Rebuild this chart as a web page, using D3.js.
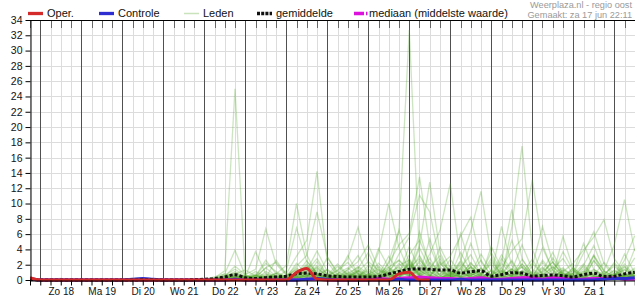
<!DOCTYPE html>
<html>
<head>
<meta charset="utf-8">
<script src="https://cdn.jsdelivr.net/npm/d3@7"></script>
<style>
body { margin: 0; background: #fff; }
svg { display: block; font-family: "Liberation Sans", Arial, sans-serif; }
</style>
</head>
<body>
<div id="pluim"></div>
<script>
// tijdas: 6-uurlijkse stappen vanaf za 17 jun 18:00
var startTijd = "2017-06-17T18:00:00Z";
var eindTijd = "2017-07-02T12:00:00Z";
var stapUren = 6;
var yTicks = [0, 2, 4, 6, 8, 10, 12, 14, 16, 18, 20, 22, 24, 26, 28, 30, 32, 34];
var dagNamen = ["Zo", "Ma", "Di", "Wo", "Do", "Vr", "Za"];

var legendaNamen = ["Oper.", "Controle", "Leden", "gemiddelde", "mediaan (middelste waarde)"];
var bronTekst = "Weerplaza.nl - regio oost";
var gemaaktTekst = "Gemaakt: za 17 jun 22:11";

var oper = [0.3, 0,0,0,0, 0,0,0,0, 0,0,0,0, 0,0,0,0, 0,0,0,0, 0,0,0,0, 0,1.0,1.5,0.1, 0,0,0,0, 0,0,0,0.8, 1.0,0,0];

var controle = [0.2, 0,0,0,0, 0,0,0,0, 0,0.1,0.2,0.1, 0,0,0,0, 0,0,0,0.1, 0,0,0,0, 0,0,0.1,0.2, 0.1,0,0,0, 0,0,0,0.1, 0,0,0,0, 0,0.1,0,0, 0,0,0,0, 0,0,0,0, 0,0,0,0.1, 0.2,0.2,0.3];

var mediaan = [0.2, 0,0,0,0, 0,0,0,0, 0,0,0,0, 0,0,0,0, 0,0,0,0.1, 0,0,0,0, 0,0,0.1,0.1, 0,0,0,0, 0,0.2,0.1,0.2, 0.3,0.4,0.3,0.2, 0.2,0.1,0.2,0.3, 0.1,0.1,0.2,0.3, 0.3,0.1,0.3,0.2, 0.1,0.1,0.2,0.2, 0.3,0.1,0.1];

var gemiddelde = [0.1, 0,0,0,0, 0,0,0,0, 0,0,0.02,0.02, 0,0,0,0.05, 0.1,0.2,0.4,0.7, 0.3,0.2,0.3,0.4, 0.5,0.8,0.9,0.8, 0.55,0.45,0.4,0.4, 0.4,0.45,0.8,1.1, 1.4,1.45,1.4,1.3, 1.3,0.9,1.1,1.2, 0.5,0.7,0.95,0.9, 0.5,0.6,0.65,0.55, 0.4,0.7,0.9,0.45, 0.5,0.8,1.0];

var leden = [
  [0, 0,0,0,0, 0,0,0,0, 0,0,0,0, 0,0,0,0, 0,0.3,1.2,25, 0.4,0,0.2,0.5, 0,0.3,1.8,0.6, 0,0,0.4,1.2, 0.3,0,0,0.8, 2.1,0.5,0,0, 0.3,1.4,0.2,0, 0,0.6,2.4,0.3, 0,0,0.5,1.1, 0.2,0,0,0.4, 1.3,0.3,0],
  [0, 0,0,0,0, 0,0,0,0, 0,0,0,0, 0,0,0,0, 0,0,0.2,0.6, 0.3,0,1.1,0.4, 0.2,0.8,2.5,0.9, 0.3,0.1,0.6,1.8, 0.8,0.2,2.4,6.5, 32.7,3.1,0.6,0.4, 1.9,0.3,0,0.7, 2.8,0.5,0.2,0, 0.4,1.5,0.6,0.1, 0,0.9,3.2,0.5, 0.2,0,1.1],
  [0, 0,0,0,0, 0,0,0,0, 0,0,0,0, 0,0,0,0, 0.1,0.4,0.8,0.3, 0,0.6,0.2,0, 0.5,1.4,0.6,0.2, 0,0.8,1.6,0.4, 0.1,0.3,1.2,2.6, 0.9,4.2,1.5,0.3, 0.6,2.2,0.8,3.4, 1.1,0.4,6.8,17.5, 4.1,0.6,0.2,1.3, 0.4,0,2.6,0.8, 0.3,1.7,0.4],
  [0, 0,0,0,0, 0,0,0,0, 0,0,0,0, 0,0,0,0, 0,0.2,0.6,1.4, 0.5,0.3,1.6,2.3, 0.8,3.1,5.2,14.2, 2.4,0.6,0.3,1.1, 0.2,0.5,0.9,0.3, 2.8,0.6,0.1,0, 0.4,1.6,3.3,0.7, 0.2,0,0.5,1.8, 0.6,0.3,0,0.4, 1.2,0.2,0,0.6, 2.1,0.4,0.2],
  [0, 0,0,0,0, 0,0,0,0, 0,0,0,0, 0,0,0,0, 0,0,0.3,0.9, 0.2,0.1,0.4,0.2, 0,0.6,1.9,0.8, 0.3,0.2,1.4,3.2, 0.8,0.4,2.2,4.6, 6.1,13.5,4.4,1.2, 0.5,2.4,0.9,0.2, 0.3,1.1,0.6,2.7, 0.8,0.2,0.5,0.3, 1.6,0.4,0.2,0, 0.7,1.8,0.5],
  [0, 0,0,0,0, 0,0,0,0, 0,0,0,0, 0,0,0,0, 0,0.1,0.5,0.3, 0.6,0.2,0,0.3, 0.4,0.9,0.3,1.4, 0.6,0.2,0.8,0.4, 1.5,0.3,0.6,1.9, 2.6,0.8,3.4,6.5, 12.6,2.7,0.6,1.3, 0.4,2.8,0.9,0.3, 0.5,1.2,3.6,0.8, 0.2,0.6,1.4,0.3, 0,0.8,2.9],
  [0, 0,0,0,0, 0,0,0,0, 0,0,0,0, 0,0,0,0, 0,0,0.2,0.5, 0.1,0.3,0.8,0.4, 0.2,0.6,1.2,2.8, 0.7,0.3,0.5,0.9, 0.4,1.2,0.6,0.3, 2.1,0.7,1.6,3.2, 0.8,2.5,6.4,11.6, 3.2,0.6,1.4,0.5, 0.2,0.9,2.4,0.7, 0.3,1.5,0.6,0.2, 0.4,0,0.9],
  [0, 0,0,0,0, 0,0,0,0, 0,0,0,0, 0,0,0,0, 0,0,0,0.4, 0.3,0.6,0.2,0, 0.3,0.2,0.9,0.5, 1.3,0.4,0.2,0.7, 0.3,0.8,1.4,0.6, 0.9,2.3,0.5,1.7, 0.4,0.6,2.2,0.8, 0.5,1.6,3.8,5.4, 13.1,4.6,1.2,0.3, 0.8,2.1,0.5,0.2, 0.6,1.3,0.4],
  [0, 0,0,0,0, 0,0,0,0, 0,0,0,0, 0,0,0,0, 0,0.2,0.4,1.1, 0.3,0.5,2.6,0.8, 1.9,10,3.3,0.6, 0.2,0.4,1.1,0.3, 0.6,0.2,0.9,1.7, 0.5,1.3,0.4,2.2, 0.7,0.3,1.2,0.5, 0.2,0.8,2.6,0.4, 0.1,0.5,0.3,1.4, 0.6,0.2,0,0.3, 0.9,0.4,0.2],
  [0, 0,0,0,0, 0,0,0,0, 0,0,0,0, 0,0,0,0, 0,0,0.1,0.3, 0.5,0.2,0.3,0.9, 0.4,0.2,0.6,0.3, 0.5,1.2,2.3,0.8, 0.4,3.6,10,4.2, 1.1,0.6,2.9,0.4, 0.3,0.9,0.5,1.6, 0.4,0.2,1.3,0.6, 2.2,0.8,0.3,0.1, 0.5,1.8,0.6,0.2, 0,0.5,1.2],
  [0, 0,0,0,0, 0,0,0,0, 0,0,0,0, 0,0,0,0, 0,0,0.2,0.2, 0.1,0.4,0.2,0.6, 0.3,0.8,0.4,0.2, 0.6,0.3,0.9,1.6, 0.5,0.2,0.7,1.3, 0.4,2.6,1.1,0.3, 0.9,0.4,1.8,0.6, 0.3,1.2,0.5,2.1, 0.6,0.3,1.4,2.8, 0.7,0.4,3.1,1.2, 4.6,10.5,3.8],
  [0, 0,0,0,0, 0,0,0,0, 0,0,0,0, 0,0,0,0, 0,0,0.3,0.6, 0.2,0,0.5,0.3, 0.1,0.4,1.1,0.7, 0.3,0.6,0.2,1.1, 2.4,1.3,0.8,3.4, 5.6,11.1,8.9,2.3, 0.6,1.4,0.3,0.8, 2.1,0.5,0.3,1.2, 0.4,0.8,0.2,0.5, 1.3,0.3,0.9,0.4, 0.2,0.6,0.3],
  [0, 0,0,0,0, 0,0,0,0, 0,0,0,0, 0,0,0,0, 0,0.1,0.5,1.8, 0.7,1.4,6.7,2.1, 0.6,1.8,3.2,8.9, 3.1,0.8,0.3,0.6, 1.2,0.4,0.2,0.9, 0.5,1.7,0.6,0.2, 1.1,0.4,0.8,2.6, 0.5,7,1.9,0.4, 0.3,0.6,1.7,0.5, 0.2,0.9,0.4,0.2, 0.6,1.4,0.5],
  [0, 0,0,0,0, 0,0,0,0, 0,0,0,0, 0,0,0,0, 0,0,0.2,0.9, 0.4,3.7,0.8,0.3, 1.2,6.8,2.4,0.9, 0.5,1.3,2.8,6.9, 2.1,0.7,0.3,1.5, 0.6,0.4,2.3,1.1, 0.3,0.8,1.6,0.4, 0.7,1.3,0.5,0.2, 1.8,7,2.3,0.6, 0.4,0.2,1.1,0.5, 0.3,0.7,0.2],
  [0, 0,0,0,0, 0,0,0,0, 0,0,0,0, 0,0,0,0, 0,0,0,0.2, 0.3,0.6,0.2,0.4, 0.1,0.3,0.5,1.2, 0.4,0.6,1.3,2.4, 4.6,1.5,0.8,6.5, 2.2,0.6,1.1,0.3, 0.8,1.9,0.5,1.3, 0.6,2.4,9.2,2.8, 0.7,0.3,0.5,5.7, 1.4,0.4,0.2,0.8, 0.3,0.5,1.6],
  [0, 0,0,0,0, 0,0,0,0, 0,0,0,0, 0,0,0,0, 0,0.2,0.8,3.9, 0.6,0.2,0.4,0.8, 0.3,0.5,0.2,0.6, 1.4,0.5,0.3,0.8, 0.2,0.4,1.6,0.9, 3.3,5.2,2.1,0.6, 1.2,0.4,0.9,0.3, 0.5,0.2,0.8,1.7, 0.4,1.1,2.3,0.6, 0.8,3.5,6.3,2.1, 0.4,0.6,0.3],
  [0, 0,0,0,0, 0,0,0,0, 0,0,0,0, 0,0,0,0, 0,0,0.1,0.4, 0.2,0.3,0.1,0.5, 0.2,0.9,0.4,1.6, 0.5,0.2,0.6,0.3, 0.7,1.4,0.5,0.3, 1.9,0.6,0.4,2.4, 1.2,0.5,1.7,0.4, 0.2,0.9,0.5,1.2, 0.6,1.7,0.4,1.1, 2.2,3.9,5.6,7.9, 2.8,0.9,0.4],
  [0, 0,0,0,0, 0,0,0,0, 0,0,0,0, 0,0,0,0, 0,0,0,0.3, 0.1,0.5,0.3,0.2, 0.6,0.4,0.9,0.5, 0.3,1.8,0.6,0.2, 0.4,0.9,1.7,2.6, 1.3,4.5,12.8,3.6, 0.9,0.3,0.6,1.5, 0.4,2.2,0.7,0.3, 1.1,0.5,0.2,0.9, 0.4,1.2,0.6,2.3, 0.8,0.3,0.6],
  [0, 0,0,0,0, 0,0,0,0, 0,0,0,0, 0,0,0,0, 0,0,0.2,0.4, 0.3,0.1,0.2,0.6, 0.2,0.4,0.3,0.8, 0.4,0.2,0.5,1.3, 0.6,0.3,0.9,0.5, 1.6,2.8,0.7,1.9, 3.1,5.7,8.2,2.4, 0.6,0.3,1.5,0.8, 0.4,2.6,0.9,0.3, 0.5,0.2,1.3,0.7, 0.4,2.1,0.6],
  [0.3, 0.1,0,0,0, 0,0,0,0, 0,0.2,0.3,0.1, 0,0,0,0, 0,0,0.6,0.8, 1.3,0.5,2.2,1.1, 0.4,0.2,0.6,1.7, 0.5,0.3,0.2,0.4, 0.8,0.5,1.2,0.6, 0.3,1.9,0.5,0.2, 0.6,0.4,0.3,0.9, 0.2,0.7,0.4,0.2, 0.5,0.3,0.8,1.6, 0.4,0.2,0.5,0.3, 0.8,0.4,0.2],
  [0.2, 0,0.1,0.2,0, 0,0,0,0, 0,0,0.2,0, 0,0,0,0, 0,0.1,0.3,0.5, 0.2,0.8,0.3,0.4, 0.2,0.5,1.4,0.3, 0.1,0.4,0.9,0.3, 0.2,0.6,0.3,1.1, 0.7,0.4,1.5,0.6, 0.3,0.9,0.4,0.2, 1.3,0.5,0.2,0.7, 0.4,0.2,0.6,0.3, 0.9,0.5,0.2,1.1, 0.4,0.3,0.7],
  [0, 0,0,0,0, 0,0,0,0, 0,0,0,0, 0,0,0,0, 0,0,0.1,0.2, 0.4,0.2,0.6,0.3, 0.5,1.3,0.6,0.2, 0.4,0.3,0.2,0.5, 0.3,1.8,0.6,0.4, 2.4,0.9,0.3,1.2, 0.5,0.2,0.8,0.4, 0.3,0.6,1.4,0.5, 0.2,0.4,0.3,0.6, 0.2,0.8,0.4,0.3, 1.2,0.5,0.6],
  [0, 0,0,0,0, 0,0,0,0, 0,0,0,0, 0,0,0,0, 0,0,0,0.1, 0.2,0.3,0.1,0.2, 0.3,0.2,0.8,0.4, 0.2,0.6,0.3,0.2, 0.5,0.2,0.4,0.9, 0.6,1.2,0.4,0.3, 0.7,1.1,0.3,0.5, 0.2,0.4,0.6,1.1, 0.3,0.7,0.2,0.4, 0.6,0.3,0.8,0.4, 0.2,0.5,0.9],
  [0, 0,0,0,0, 0,0,0,0, 0,0,0,0, 0,0,0,0, 0,0,0.2,0.6, 0.3,1.1,0.4,0.2, 0.6,0.3,0.4,1.9, 0.8,0.5,0.3,0.6, 0.4,0.2,0.8,0.3, 1.4,0.6,0.2,0.9, 0.4,1.6,0.5,0.3, 1.2,0.4,0.3,0.6, 0.5,0.2,0.4,0.9, 0.3,1.1,0.4,0.2, 0.6,0.3,1.4],
  [0, 0,0,0,0, 0,0,0,0, 0,0,0,0, 0,0,0,0, 0,0,0.3,0.2, 0.4,0.6,0.3,2.6, 0.8,0.4,1.2,3.8, 1.1,0.6,3.2,0.8, 0.3,4.1,1.6,0.5, 2.3,0.7,5.4,1.3, 0.6,3.6,1.2,0.4, 4.4,1.5,0.5,2.1, 0.7,4.2,1.3,0.4, 1.6,0.5,3.3,1.1, 0.4,2.6,5.8],
  [0, 0,0,0,0, 0,0,0,0, 0,0,0,0, 0,0,0,0, 0,0,0.1,0.5, 0.2,0.4,1.6,0.5, 0.3,2.2,0.7,0.4, 2.9,1.1,0.4,1.5, 3.6,0.8,0.4,2.2, 0.6,6.3,1.8,0.7, 2.7,0.9,4.8,1.5, 0.6,3.3,1.2,4.6, 1.4,0.5,2.9,0.8, 0.3,1.9,4.5,1.2, 0.5,3.4,0.9],
  [0, 0,0,0,0, 0,0,0,0, 0,0,0,0, 0,0,0,0, 0,0,0,0.3, 0.6,0.3,0.2,0.9, 0.4,1.6,0.5,2.4, 0.6,2.1,0.7,0.3, 1.9,0.6,3.1,0.9, 4.4,1.3,0.5,2.8, 0.9,6.1,1.7,0.6, 2.4,0.8,5.2,1.6, 0.5,2.3,0.7,3.7, 1.2,0.4,2.5,0.8, 1.8,0.6,4.1],
  [0, 0,0,0,0, 0,0,0,0, 0,0,0,0, 0,0,0,0, 0,0.1,0.4,0.7, 0.3,0.2,0.5,0.4, 0.2,0.7,2.1,0.6, 0.4,0.8,0.3,1.2, 0.5,2.2,0.8,0.3, 1.1,3.2,0.9,4.3, 1.6,0.5,2.3,0.8, 3.6,1.1,0.4,0.9, 2.7,0.6,1.8,0.5, 0.9,4.8,1.4,0.6, 2.3,0.7,0.4]
];

var kleuren = {
    oper: "#d42a2a",
    controle: "#2d2dd2",
    leden: "rgb(86,168,48)",
    gemiddelde: "#111",
    mediaan: "#dd11dd"
};

var breedte = 635, hoogte = 300;
var plotLinks = 30, plotRechts = 634.75, plotBoven = 20, plotOnder = 280;

var t0 = new Date(startTijd), t1 = new Date(eindTijd);
var x = d3.scaleUtc().domain([t0, t1]).range([plotLinks, plotRechts]);
var y = d3.scaleLinear().domain([0, 34]).range([plotOnder, plotBoven]);

function tijd(i) {
    return new Date(t0.getTime() + i * stapUren * 3600 * 1000);
}

var svg = d3.select("#pluim").append("svg")
    .attr("width", breedte)
    .attr("height", hoogte);

// rasterlijnen
var zesUur = d3.utcHour.every(6).range(t0, new Date(t1.getTime() + 1));
var dagen = d3.utcDay.range(t0, t1);

svg.append("g").selectAll("line").data(yTicks.slice(1, -1)).join("line")
    .attr("x1", plotLinks).attr("x2", breedte)
    .attr("y1", function (d) { return Math.round(y(d)) + 0.5; })
    .attr("y2", function (d) { return Math.round(y(d)) + 0.5; })
    .attr("stroke", "#dcdcdc").attr("stroke-width", 1);

svg.append("g").selectAll("line").data(zesUur).join("line")
    .attr("x1", function (d) { return Math.round(x(d)) + 0.5; })
    .attr("x2", function (d) { return Math.round(x(d)) + 0.5; })
    .attr("y1", plotBoven).attr("y2", plotOnder)
    .attr("stroke", "#dcdcdc").attr("stroke-width", 1);

// tickjes bovenaan
svg.append("g").selectAll("line").data(zesUur).join("line")
    .attr("x1", function (d) { return Math.round(x(d)) + 0.5; })
    .attr("x2", function (d) { return Math.round(x(d)) + 0.5; })
    .attr("y1", plotBoven).attr("y2", plotBoven + 8)
    .attr("stroke", "#666").attr("stroke-width", 1);

// daggrenzen
svg.append("g").selectAll("line").data(dagen).join("line")
    .attr("x1", function (d) { return Math.round(x(d)) + 0.5; })
    .attr("x2", function (d) { return Math.round(x(d)) + 0.5; })
    .attr("y1", plotBoven).attr("y2", plotOnder)
    .attr("stroke", "#505050").attr("stroke-width", 1);

svg.append("defs").append("clipPath").attr("id", "plotClip")
    .append("rect")
    .attr("x", plotLinks).attr("y", plotBoven - 2)
    .attr("width", breedte - plotLinks).attr("height", plotOnder - plotBoven + 4);

var lijn = d3.line()
    .x(function (d, i) { return x(tijd(i)); })
    .y(function (d) { return y(d); });
var gladLijn = d3.line()
    .x(function (d, i) { return x(tijd(i)); })
    .y(function (d) { return y(d); })
    .curve(d3.curveMonotoneX);

var plot = svg.append("g").attr("clip-path", "url(#plotClip)");

plot.append("g").selectAll("path").data(leden).join("path")
    .attr("d", lijn)
    .attr("fill", "none")
    .attr("stroke", kleuren.leden)
    .attr("stroke-opacity", 0.3)
    .attr("stroke-width", 1.3);

plot.append("path").datum(mediaan)
    .attr("d", gladLijn)
    .attr("fill", "none")
    .attr("stroke", kleuren.mediaan)
    .attr("stroke-width", 3);

plot.append("path").datum(controle)
    .attr("d", gladLijn)
    .attr("fill", "none")
    .attr("stroke", kleuren.controle)
    .attr("stroke-width", 3);

plot.append("path").datum(gemiddelde)
    .attr("d", gladLijn)
    .attr("fill", "none")
    .attr("stroke", kleuren.gemiddelde)
    .attr("stroke-width", 3)
    .attr("stroke-dasharray", "3,2");

plot.append("path").datum(oper)
    .attr("d", gladLijn)
    .attr("fill", "none")
    .attr("stroke", kleuren.oper)
    .attr("stroke-width", 3);

// assen
var yAs = svg.append("g")
    .attr("transform", "translate(" + (plotLinks + 0.5) + ",0)")
    .call(d3.axisLeft(y).tickValues(yTicks).tickSize(5).tickSizeOuter(0).tickPadding(3));
yAs.selectAll("text").style("font-size", "10.5px").attr("fill", "#111");
yAs.select(".domain").attr("stroke", "#000");

var xAs = svg.append("g")
    .attr("transform", "translate(0," + (plotOnder + 0.5) + ")")
    .call(d3.axisBottom(x).tickValues(zesUur).tickSize(5).tickSizeOuter(0).tickFormat(""));
xAs.select(".domain").attr("stroke", "#000");

var middagen = dagen.map(function (d) { return d3.utcHour.offset(d, 12); })
    .filter(function (d) { return x(d) < plotRechts - 20; });
var labelAs = svg.append("g")
    .attr("transform", "translate(0," + plotOnder + ")")
    .call(d3.axisBottom(x).tickValues(middagen).tickSize(0).tickPadding(8)
        .tickFormat(function (d) { return dagNamen[d.getUTCDay()] + " " + d.getUTCDate(); }));
labelAs.select(".domain").remove();
labelAs.selectAll("text").style("font-size", "10px").attr("fill", "#111");

svg.append("line")
    .attr("x1", plotLinks).attr("x2", breedte)
    .attr("y1", plotBoven + 0.5).attr("y2", plotBoven + 0.5)
    .attr("stroke", "#000");

// legenda
var legenda = [
    { naam: legendaNamen[0], x: 28, kleur: kleuren.oper, dash: null, opac: 1 },
    { naam: legendaNamen[1], x: 99, kleur: kleuren.controle, dash: null, opac: 1 },
    { naam: legendaNamen[2], x: 184, kleur: kleuren.leden, dash: null, opac: 0.32 },
    { naam: legendaNamen[3], x: 257, kleur: kleuren.gemiddelde, dash: "3,1.2", opac: 1 },
    { naam: legendaNamen[4], x: 354, kleur: kleuren.mediaan, dash: "10,2,1.5,20", opac: 1 }
];
var item = svg.append("g").selectAll("g").data(legenda).join("g")
    .attr("transform", function (d) { return "translate(" + d.x + ",0)"; });
item.append("line")
    .attr("x1", 0).attr("x2", 15)
    .attr("y1", 13.5).attr("y2", 13.5)
    .attr("stroke", function (d) { return d.kleur; })
    .attr("stroke-opacity", function (d) { return d.opac; })
    .attr("stroke-width", function (d) { return d.naam === "Leden" ? 1.5 : 3.3; })
    .attr("stroke-dasharray", function (d) { return d.dash; });
item.append("text")
    .attr("x", function (d) { return d.naam.indexOf("mediaan") === 0 ? 15 : 19; })
    .attr("y", 17.3)
    .style("font-size", "11px")
    .attr("fill", "#111")
    .text(function (d) { return d.naam; });

svg.append("text")
    .attr("x", 632).attr("y", 8)
    .attr("text-anchor", "end")
    .style("font-size", "9.2px")
    .attr("fill", "#9a9a9a")
    .text(bronTekst);
svg.append("text")
    .attr("x", 632).attr("y", 17.5)
    .attr("text-anchor", "end")
    .style("font-size", "9.2px")
    .attr("fill", "#9a9a9a")
    .text(gemaaktTekst);
</script>
</body>
</html>
